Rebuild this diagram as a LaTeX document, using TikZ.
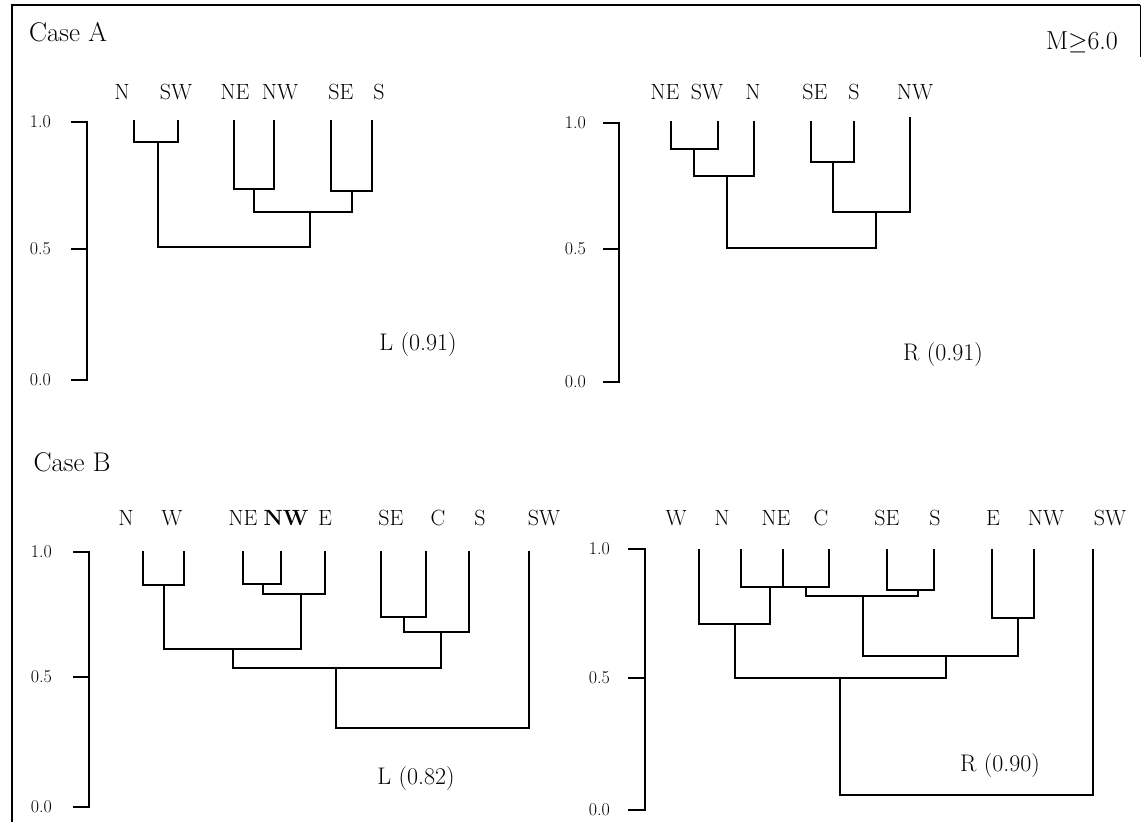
\documentclass[tikz,border=0pt]{standalone}
\usepackage{fontspec}
\begin{document}
\begin{tikzpicture}[x=1pt,y=-1pt,
  leaf/.style={font=\fontsize{22}{26}\selectfont, inner sep=0pt},
  ticklab/.style={font=\fontsize{18}{21}\selectfont, inner sep=0pt, anchor=east},
  title/.style={font=\fontsize{27}{31}\selectfont, inner sep=0pt},
  fitlab/.style={font=\fontsize{24}{28}\selectfont, inner sep=0pt},
  dendro/.style={line width=1.2pt, line cap=rect},
  axisline/.style={line width=1.6pt},
  frameline/.style={line width=1.6pt}]
\useasboundingbox (0,0) rectangle (1142,822);

% frame
\coordinate (fbl) at (12,822);
\coordinate (ftl) at (12,5);
\coordinate (ftr) at (1140,5);
\coordinate (fr) at (1140,57);
\draw[frameline] (fbl) -- (ftl) -- (ftr);
\draw[line width=1pt] (ftr) -- (fr);

% titles
\node[title] (caseA) at (68,32) {Case A};
\node[title] (caseB) at (72,462) {Case B};
\node[font=\fontsize{26}{30}\selectfont, inner sep=0pt] (mag) at (1082,42) {M$\geq$6.0};

% ================= Case A left =================
\coordinate (al1t) at (71,122); \coordinate (al1) at (87,122);
\coordinate (al5t) at (71,249); \coordinate (al5) at (87,249);
\coordinate (al0t) at (71,380); \coordinate (al0) at (87,380);
\draw[axisline] (al1t) -- (al1) -- (al0) -- (al0t);
\draw[axisline] (al5t) -- (al5);
\node[ticklab] (alL1) at (51,122) {1.0};
\node[ticklab] (alL5) at (51,249) {0.5};
\node[ticklab] (alL0) at (51,380) {0.0};

\node[leaf] (aN)  at (122,92) {N};
\node[leaf] (aSW) at (176,92) {SW};
\node[leaf] (aNE) at (235,92) {NE};
\node[leaf] (aNW) at (280,92) {NW};
\node[leaf] (aSE) at (341,92) {SE};
\node[leaf] (aS)  at (379,92) {S};

\coordinate (aNt)  at (134,121);
\coordinate (aSWt) at (178,121);
\coordinate (aNEt) at (234,121);
\coordinate (aNWt) at (274,121);
\coordinate (aSEt) at (331,121);
\coordinate (aSt)  at (372,121);
\coordinate (am1) at (158,142);
\coordinate (am2) at (254,189);
\coordinate (am3) at (352,191);
\coordinate (am4) at (310,212);
\coordinate (am5) at (234,247);
\draw[dendro] (aNt) |- (am1) -| (aSWt);
\draw[dendro] (aNEt) |- (am2) -| (aNWt);
\draw[dendro] (aSEt) |- (am3) -| (aSt);
\draw[dendro] (am2) |- (am4) -| (am3);
\draw[dendro] (am1) |- (am5) -| (am4);
\node[fitlab] (aLfit) at (418,345) {L (0.91)};

% ================= Case A right =================
\coordinate (ar1t) at (603,123); \coordinate (ar1) at (619,123);
\coordinate (ar5t) at (603,249); \coordinate (ar5) at (619,249);
\coordinate (ar0t) at (603,382); \coordinate (ar0) at (619,382);
\draw[axisline] (ar1t) -- (ar1) -- (ar0) -- (ar0t);
\draw[axisline] (ar5t) -- (ar5);
\node[ticklab] (arL1) at (586,123) {1.0};
\node[ticklab] (arL5) at (586,249) {0.5};
\node[ticklab] (arL0) at (586,382) {0.0};

\node[leaf] (bNE) at (665,92) {NE};
\node[leaf] (bSW) at (707,92) {SW};
\node[leaf] (bN)  at (753,92) {N};
\node[leaf] (bSE) at (815,92) {SE};
\node[leaf] (bS)  at (854,92) {S};
\node[leaf] (bNW) at (915,92) {NW};

\coordinate (bNEt) at (671,122);
\coordinate (bSWt) at (718,122);
\coordinate (bNt)  at (754,122);
\coordinate (bSEt) at (811,122);
\coordinate (bSt)  at (854,122);
\coordinate (bNWt) at (910,118);
\coordinate (bm1) at (694,149);
\coordinate (bm2) at (727,176);
\coordinate (bm3) at (833,162);
\coordinate (bm4) at (876,212);
\coordinate (bm5) at (800,248);
\draw[dendro] (bNEt) |- (bm1) -| (bSWt);
\draw[dendro] (bm1) |- (bm2) -| (bNt);
\draw[dendro] (bSEt) |- (bm3) -| (bSt);
\draw[dendro] (bm3) |- (bm4) -| (bNWt);
\draw[dendro] (bm2) |- (bm5) -| (bm4);
\node[fitlab] (bRfit) at (943,355) {R (0.91)};

% ================= Case B left =================
\coordinate (cl1t) at (73,552); \coordinate (cl1) at (89,552);
\coordinate (cl5t) at (73,677); \coordinate (cl5) at (89,677);
\coordinate (cl0t) at (73,807); \coordinate (cl0) at (89,807);
\draw[axisline] (cl1t) -- (cl1) -- (cl0) -- (cl0t);
\draw[axisline] (cl5t) -- (cl5);
\node[ticklab] (clL1) at (52,552) {1.0};
\node[ticklab] (clL5) at (52,677) {0.5};
\node[ticklab] (clL0) at (52,807) {0.0};

\node[leaf] (cN)  at (126,518) {N};
\node[leaf] (cW)  at (172,518) {W};
\node[leaf] (cNE) at (243,518) {NE};
\node[leaf] (cNW) at (286,518) {\textbf{NW}};
\node[leaf] (cE)  at (325,518) {E};
\node[leaf] (cSE) at (391,518) {SE};
\node[leaf] (cC)  at (438,518) {C};
\node[leaf] (cS)  at (480,518) {S};
\node[leaf] (cSW) at (544,518) {SW};

\coordinate (cNt)  at (143,552);
\coordinate (cWt)  at (184,552);
\coordinate (cNEt) at (243,552);
\coordinate (cNWt) at (281,552);
\coordinate (cEt)  at (325,552);
\coordinate (cSEt) at (381,552);
\coordinate (cCt)  at (426,552);
\coordinate (cSt)  at (469,552);
\coordinate (cSWt) at (529,552);
\coordinate (cm1) at (164,585);
\coordinate (cm2) at (263,584);
\coordinate (cm3) at (301,594);
\coordinate (cm4) at (233,649);
\coordinate (cm5) at (404,617);
\coordinate (cm6) at (441,632);
\coordinate (cm7) at (336,668);
\coordinate (cm8) at (430,728);
\draw[dendro] (cNt) |- (cm1) -| (cWt);
\draw[dendro] (cNEt) |- (cm2) -| (cNWt);
\draw[dendro] (cm2) |- (cm3) -| (cEt);
\draw[dendro] (cm1) |- (cm4) -| (cm3);
\draw[dendro] (cSEt) |- (cm5) -| (cCt);
\draw[dendro] (cm5) |- (cm6) -| (cSt);
\draw[dendro] (cm4) |- (cm7) -| (cm6);
\draw[dendro] (cm7) |- (cm8) -| (cSWt);
\node[fitlab] (cLfit) at (416,778) {L (0.82)};

% ================= Case B right =================
\coordinate (dr1t) at (628,549); \coordinate (dr1) at (645,549);
\coordinate (dr5t) at (628,678); \coordinate (dr5) at (645,678);
\coordinate (dr0t) at (628,810); \coordinate (dr0) at (645,810);
\draw[axisline] (dr1t) -- (dr1) -- (dr0) -- (dr0t);
\draw[axisline] (dr5t) -- (dr5);
\node[ticklab] (drL1) at (610,549) {1.0};
\node[ticklab] (drL5) at (610,678) {0.5};
\node[ticklab] (drL0) at (610,810) {0.0};

\node[leaf] (dW)  at (676,518) {W};
\node[leaf] (dN)  at (722,518) {N};
\node[leaf] (dNE) at (776,518) {NE};
\node[leaf] (dC)  at (821,518) {C};
\node[leaf] (dSE) at (887,518) {SE};
\node[leaf] (dS)  at (935,518) {S};
\node[leaf] (dE)  at (993,518) {E};
\node[leaf] (dNW) at (1046,518) {NW};
\node[leaf] (dSW) at (1110,518) {SW};

\coordinate (dWt)  at (699,550);
\coordinate (dNt)  at (741,550);
\coordinate (dNEt) at (783,550);
\coordinate (dCt)  at (829,550);
\coordinate (dSEt) at (887,550);
\coordinate (dSt)  at (934,550);
\coordinate (dEt)  at (992,550);
\coordinate (dNWt) at (1034,550);
\coordinate (dSWt) at (1093,550);
\coordinate (dm1)  at (770,587);
\coordinate (dm1b) at (806,587);
\coordinate (dm2)  at (918,590);
\coordinate (dm3)  at (863,596);
\coordinate (dm4)  at (1018,618);
\coordinate (dm5)  at (946,656);
\coordinate (dm6)  at (735,624);
\coordinate (dm7)  at (840,678);
\coordinate (dm8)  at (960,795);
\draw[dendro] (dNt) |- (dm1) -| (dNEt);
\draw[dendro] (dNEt) |- (dm1b) -| (dCt);
\draw[dendro] (dSEt) |- (dm2) -| (dSt);
\draw[dendro] (dm1b) |- (dm3) -| (dm2);
\draw[dendro] (dEt) |- (dm4) -| (dNWt);
\draw[dendro] (dm3) |- (dm5) -| (dm4);
\draw[dendro] (dWt) |- (dm6) -| (dm1);
\draw[dendro] (dm6) |- (dm7) -| (dm5);
\draw[dendro] (dm7) |- (dm8) -| (dSWt);
\node[fitlab] (dRfit) at (1000,765) {R (0.90)};

\end{tikzpicture}
\end{document}
